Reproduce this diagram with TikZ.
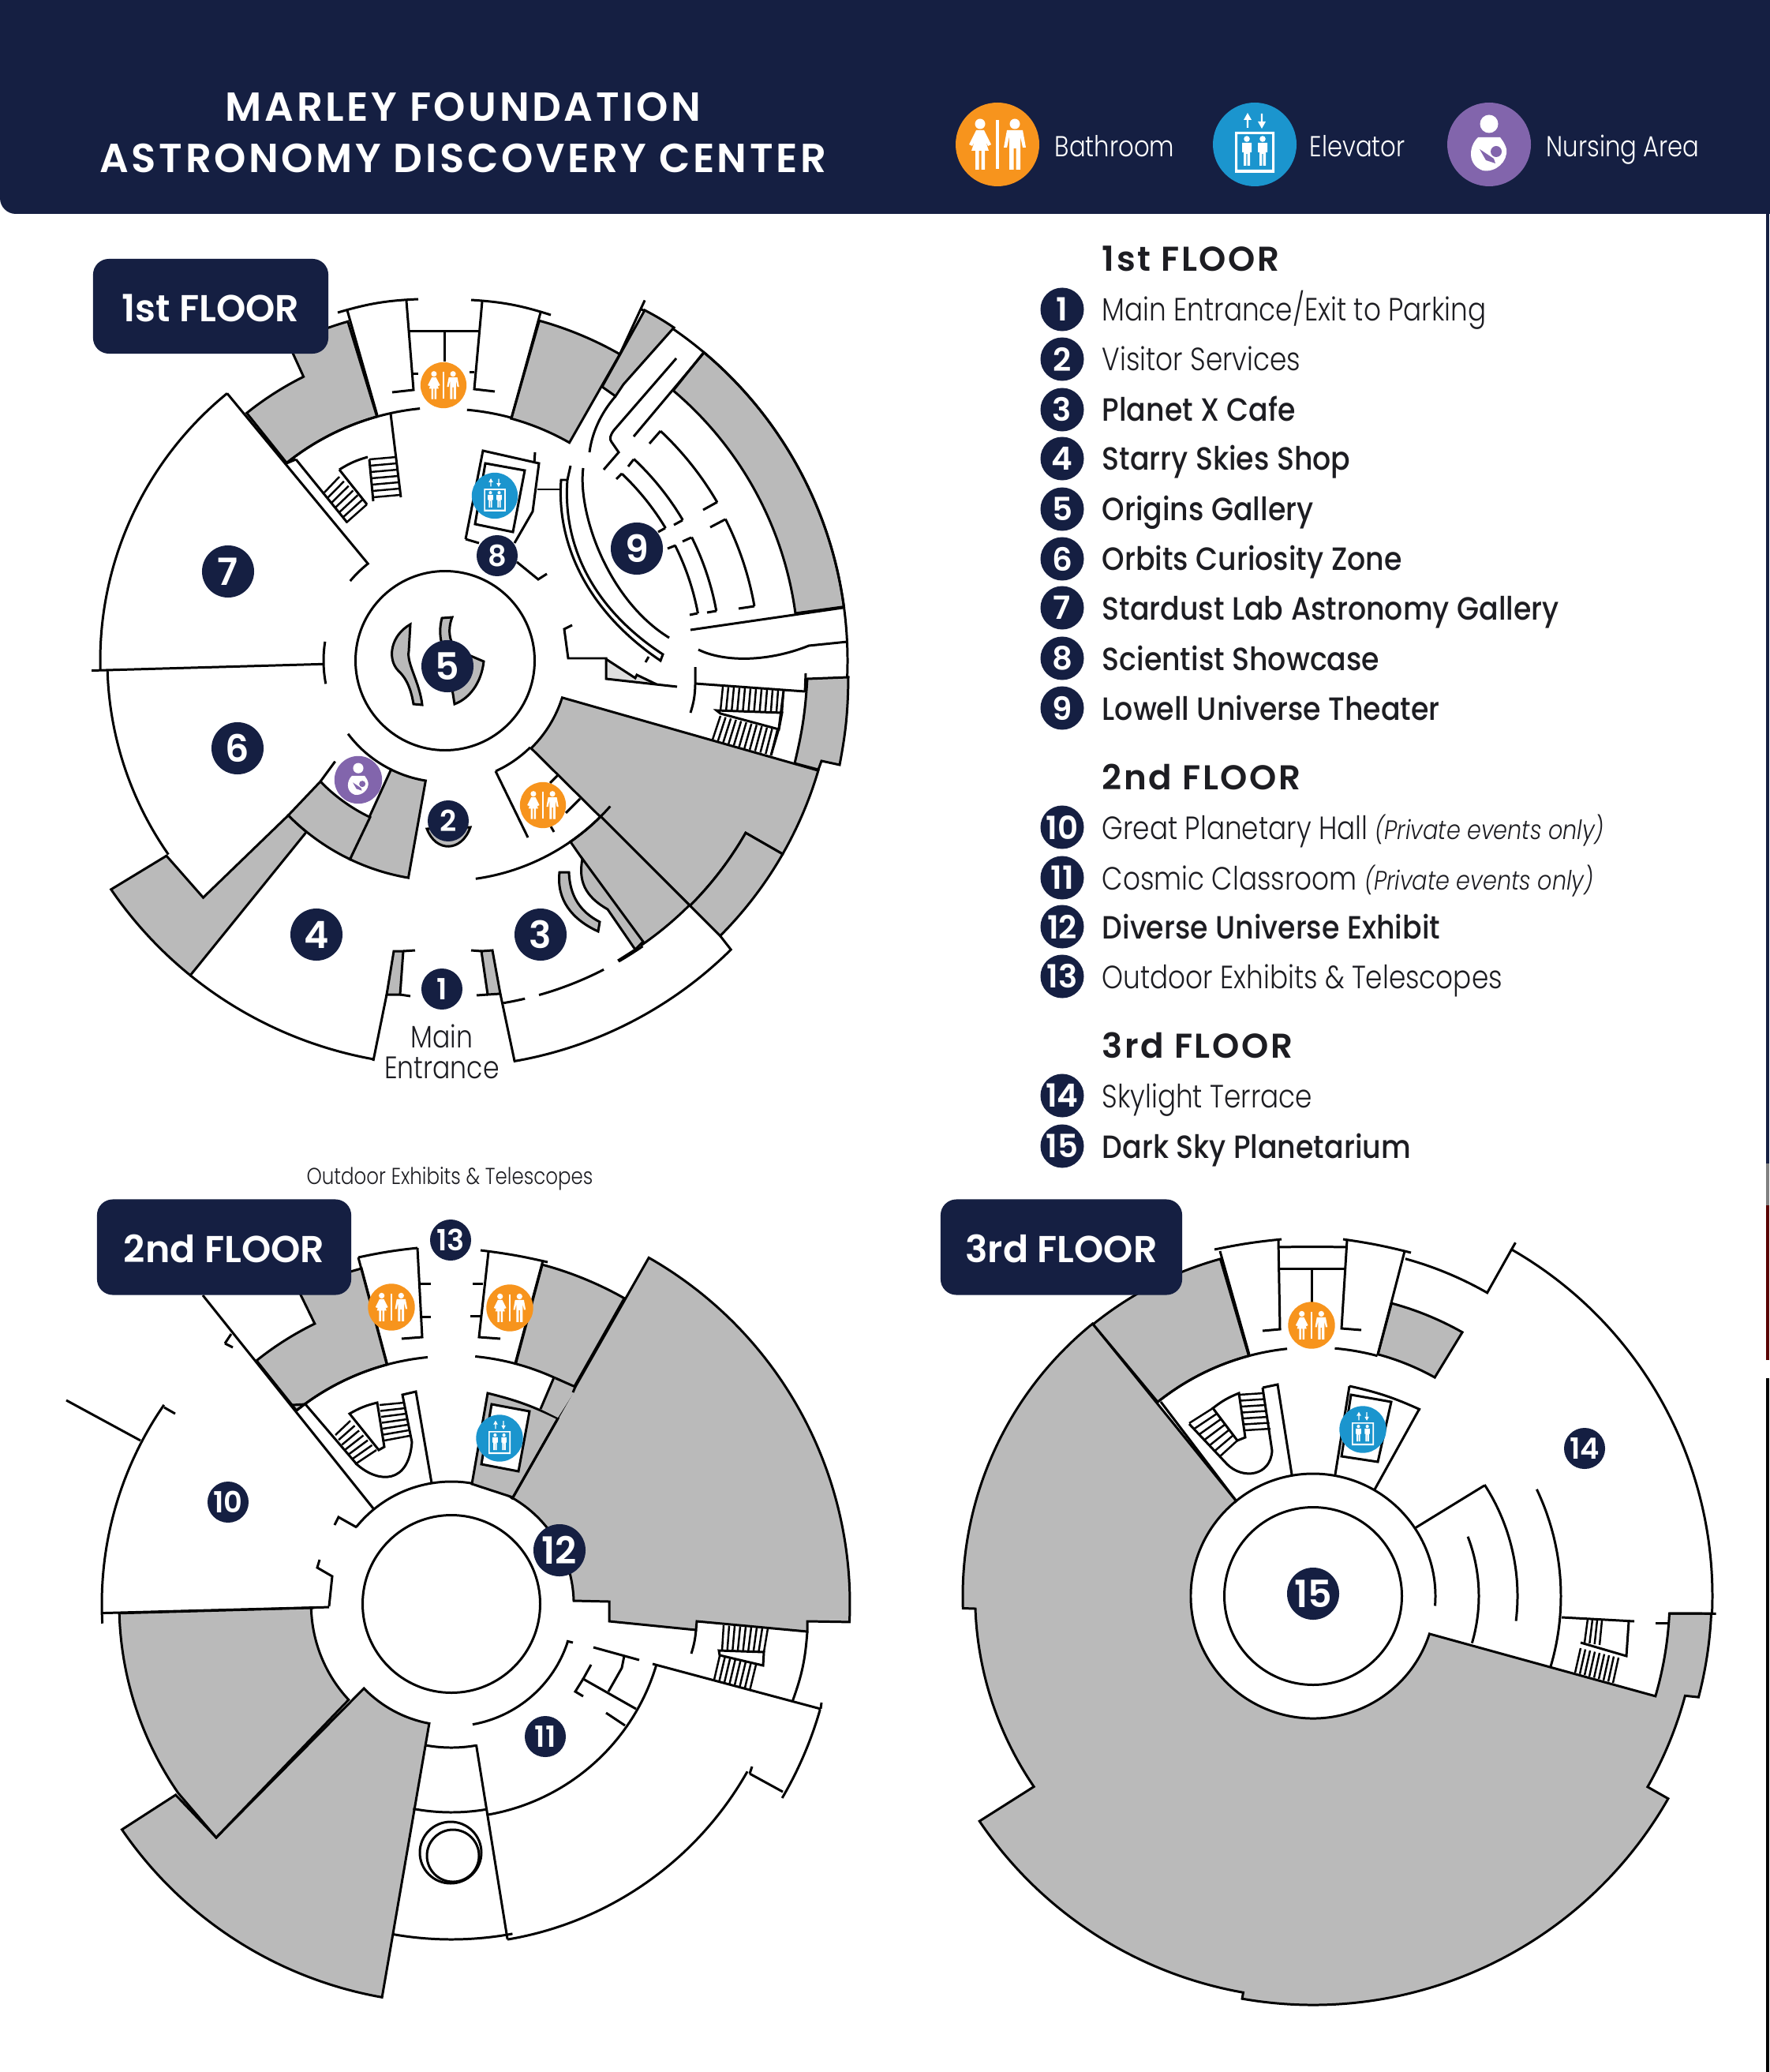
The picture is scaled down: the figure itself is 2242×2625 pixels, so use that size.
\documentclass[tikz,border=0pt]{standalone}
\usepackage{fontspec}
\setmainfont{Poppins}[UprightFont=* Light,BoldFont=* Medium,ItalicFont=* Light Italic,UprightFeatures={FakeStretch=0.84},BoldFeatures={FakeStretch=0.89},ItalicFeatures={FakeStretch=0.85}]
\newfontfamily\headfont{Poppins}[UprightFont=* SemiBold,LetterSpace=7]
\newfontfamily\numfont{Poppins}[UprightFont=* SemiBold]
\usetikzlibrary{calc}

\definecolor{navy}{HTML}{151F42}
\definecolor{roomgray}{HTML}{BABABA}
\definecolor{bathorange}{HTML}{F7941D}
\definecolor{liftblue}{HTML}{1B95CE}
\definecolor{nursepurple}{HTML}{8265AC}
\definecolor{ink}{HTML}{1D1D22}

\newcommand{\treads}[5]{\foreach \k in {0,...,#5} {\draw[thinwall] ($#1!\k/#5!#3$) -- ($#2!\k/#5!#4$);}}

\tikzset{
	wall/.style={line width=0.85pt,line join=miter},
	thinwall/.style={line width=0.7pt},
	grayroom/.style={fill=roomgray,draw=black,line width=0.85pt},
	floorA/.style={shift={(564,837)},y=0.01cm},
	floorB/.style={shift={(572,2032)},y=0.01cm},
	floorC/.style={shift={(1664,2022)},y=0.01cm},
	bignum/.style={circle,fill=navy,text=white,inner sep=0pt,minimum size=0.66cm,font=\numfont\fontsize{13.5}{14}\selectfont},
	smallnum/.style={circle,fill=navy,text=white,inner sep=0pt,minimum size=0.52cm,font=\numfont\fontsize{10.5}{11}\selectfont},
	legnum/.style={circle,fill=navy,text=white,inner sep=0pt,minimum size=0.55cm,font=\numfont\fontsize{11.5}{12}\selectfont},
	legtext/.style={anchor=base west,inner sep=0pt,text=ink,font=\fontsize{11.6}{12}\selectfont},
	legbold/.style={legtext,font=\fontsize{11.6}{12}\bfseries},
	leghead/.style={anchor=base west,inner sep=0pt,text=ink,font=\numfont\fontsize{12.4}{13}\selectfont\addfontfeature{LetterSpace=6}},
	iconlabel/.style={anchor=base west,inner sep=0pt,text=white,font=\fontsize{10.4}{11}\selectfont},
	floorbox/.style={rounded corners=0.2cm,fill=navy,text=white,inner sep=0pt,text height=0.39cm,text depth=0cm,font=\numfont\fontsize{13.5}{14}\selectfont},
	bathicon/.pic={
		\begin{scope}[yscale=-1]
			\fill[bathorange] (0,0) circle (53);
			\fill[white] (-2.2,31) rectangle (2.2,-31);
			\fill[white] (-22,26) circle (6.5) (22,26) circle (6.5);
			\fill[white] (-27,18) -- (-17,18) -- (-8,0) -- (-12,-2) -- (-15,4) -- (-11,-8) -- (-16,-8) -- (-16,-32) -- (-20.5,-32) -- (-20.5,-8) -- (-23.5,-8) -- (-23.5,-32) -- (-28,-32) -- (-28,-8) -- (-33,-8) -- (-29,4) -- (-32,-2) -- (-36,0) -- cycle;
			\fill[white] (12,18) -- (32,18) -- (36,-4) -- (32,-4) -- (29,10) -- (29,-32) -- (23.5,-32) -- (23.5,-5) -- (20.5,-5) -- (20.5,-32) -- (15,-32) -- (15,10) -- (12,-4) -- (8,-4) -- cycle;
		\end{scope}
	},
	lifticon/.pic={
		\begin{scope}[yscale=-1]
			\fill[liftblue] (0,0) circle (53);
			\fill[white] (-10.2,21) rectangle (-7.8,33) (7.8,27) rectangle (10.2,39);
			\fill[white] (-9,40) -- (-14,31) -- (-4,31) -- cycle (9,20) -- (14,29) -- (4,29) -- cycle;
			\fill[white,even odd rule] (-25,16) rectangle (25,-36) (-22,13) rectangle (22,-32);
			\foreach \s in {-10,10} {
				\fill[white] (\s,7) circle (3.8);
				\fill[white] (\s-6,2) -- (\s+6,2) -- (\s+6,-10) -- (\s+4,-10) -- (\s+4,-27) -- (\s+0.6,-27) -- (\s+0.6,-12) -- (\s-0.6,-12) -- (\s-0.6,-27) -- (\s-4,-27) -- (\s-4,-10) -- (\s-6,-10) -- cycle;
			}
		\end{scope}
	},
	nurseicon/.pic={
		\begin{scope}[yscale=-1]
			\fill[nursepurple] (0,0) circle (53);
			\fill[white] (0,26) circle (11.5);
			\fill[white] (-14,9) .. controls (-26,-2) and (-28,-26) .. (-8,-33) .. controls (8,-36) and (24,-22) .. (22,-6) .. controls (20,2) and (16,6) .. (14,9) -- cycle;
			\fill[nursepurple] (9,-9) circle (7);
			\fill[nursepurple] (-12,-6) -- (-4,-20) -- (8,-24) -- (6,-18) -- (-3,-12) -- cycle;
		\end{scope}
	},
}

\begin{document}
\begin{tikzpicture}[x=0.01cm,y=-0.01cm]
	\useasboundingbox (0,0) rectangle (2242,2625);
	\fill[white] (0,0) rectangle (2242,2625);

	% Header band
	\fill[navy,rounded corners=0.2cm] (0,-40) rectangle (2300,271);
	\node[text=white,font=\headfont\fontsize{14.6}{15}\selectfont] (title1) at (587,136) {MARLEY FOUNDATION};
	\node[text=white,font=\headfont\fontsize{14.6}{15}\selectfont] (title2) at (587,201) {ASTRONOMY DISCOVERY CENTER};
	\pic at (1264,183) {bathicon};
	\pic at (1590,183) {lifticon};
	\pic at (1887,183) {nurseicon};
	\node[iconlabel] (keybath) at (1336,199) {Bathroom};
	\node[iconlabel] (keylift) at (1659,199) {Elevator};
	\node[iconlabel] (keynurse) at (1959,199) {Nursing Area};

	% Sliver at the right page edge
	\fill[navy] (2238,271) rectangle (2242,1474);
	\fill[gray] (2238,1474) rectangle (2242,1527);
	\fill[black!30!red!50!black] (2238,1527) rectangle (2242,1723);
	\fill[black] (2238,1746) rectangle (2242,2625);

	% ---------- 1st floor ----------
	\begin{scope}[floorA]
		% Gray rooms
		\filldraw[grayroom] (105.6:321) -- (106:447) arc (106:116.3:447) -- (116.5:402) arc (116.5:128.7:402) -- (128.7:321) arc (128.7:105.6:321) -- cycle;
		\filldraw[grayroom] (74.7:318) -- (74.5:447) arc (74.5:60.3:447) -- (60.3:318) arc (60.3:74.7:318) -- cycle;
		\filldraw[grayroom] (50:510) arc (50:7.7:510) -- (7.7:448) arc (7.7:49.8:448) -- cycle;
		\filldraw[grayroom] (-45.5:155.6) arc (-45.5:-17.5:155.6) -- (-16.4:493) arc (-16.4:-29.8:493) -- (-29.8:439) arc (-29.8:-45:439) -- cycle;
		\filldraw[grayroom] (-29.8:439) -- (-29.8:493) arc (-29.8:-45:493) -- (-45:439) arc (-45:-29.8:439) -- cycle;
		\filldraw[grayroom] (-45:279) -- (-45:438) arc (-45:-55.3:438) -- (-55.3:279) arc (-55.3:-45:279) -- cycle;
		\filldraw[grayroom] (214.4:513) arc (214.4:231:513) -- (231:279) arc (231:224.6:279) -- (224.4:429) -- (215:431) -- cycle;
		\filldraw[grayroom] (243.6:154) arc (243.6:260.8:154) -- (260.4:279) arc (260.4:244.4:279) -- cycle;
		\filldraw[grayroom] (224.6:279) arc (224.6:244.4:279) -- (244.4:220) arc (244.4:224.1:220) -- cycle;
		% Rim and radial walls
		\draw[wall] (61:510) arc (61:-3:510);
		\draw[wall] (129.2:437) arc (129.2:181.6:437);
		\draw[wall] (181.6:448) -- (181.6:154);
		\draw[wall] (171:154) arc (171:191:154);
		\draw[wall] (181.6:428) arc (181.6:215:428);
		\draw[wall] (129.2:437) -- (128.5:157) arc (128.5:140:157);
		\draw[wall] (224.1:220) -- (222.5:189);
		\draw[wall] (217:154) arc (217:243.6:154);
		\draw[wall] (231:513) arc (231:259.8:513);
		\draw[wall] (279.7:515) arc (279.7:314.7:515) -- (-45:493);
		\draw[wall] (60.3:447) -- (61:522);
		% Inner rings
		\draw[wall] (0,0) circle (113.5);
		\draw[wall] (128.8:321) arc (128.8:95.7:321);
		\draw[wall] (85:319) arc (85:74.7:319);
		\draw[wall] (-82:279) arc (-82:-41.4:279);
		\draw[wall] (-80.3:440) arc (-80.3:-76.7:440);
		\draw[wall] (-74.3:440) arc (-74.3:-62.8:440);
		\draw[wall] (-60:440) arc (-60:-55.3:440);
		\draw[wall] (-65.4:154) arc (-65.4:-45.5:154);
		% Theater rows
		\foreach \ra/\rb/\ang in {399/46.8/30.2,350/46.9/30.6,326/46.6/31,398/26.8/10,349.5/26.6/10.4,326/26.6/10.6} {
			\draw[wall] (\rb:\ra) arc (\rb:\ang:\ra);
		}
	\end{scope}

	% Theater row stubs and entrance corridor
	\draw[wall] (837,546) -- (823,562);
	\draw[wall] (909,636) -- (891,646);
	\draw[wall] (803,582) -- (796,591);
	\draw[wall] (865,659) -- (854,665);
	\draw[wall] (788,600) -- (781,607);
	\draw[wall] (843,669) -- (834,674);
	\draw[wall] (919,658) -- (900,668);
	\draw[wall] (956,768) -- (936,771);
	\draw[wall] (876,681) -- (865,686);
	\draw[wall] (908,774) -- (896,776);
	\draw[wall] (856,691) -- (846,695);
	\draw[wall] (884,777) -- (874,779);
	\filldraw[grayroom] (817,393) to[bend left=3] (854,415) -- (790,487) -- (780,502) -- (763,490) -- cycle;
	\draw[wall] (780,502) .. controls (760,525) and (750,550) .. (747,573);
	\draw[wall] (857,454) -- (778,545) .. controls (773,552) and (772,556) .. (775,560) -- (784,573) -- (765,595);
	\draw[wall] (892,447) -- (803,553);
	\draw[wall] (739,593) .. controls (732,650) and (770,760) .. (848,808);
	\filldraw[wall,fill=white] (711,608) .. controls (705,690) and (745,775) .. (837,837) -- (840,829) .. controls (750,770) and (713,690) .. (719,608) -- cycle;
	\draw[wall] (723,590) -- (719,608);
	\draw[wall] (681,620) -- (711,620);
	% Lobby counter and corridors
	\fill[gray!25] (768,835) -- (805,859) -- (807,855) -- (832,867) -- (768,860) -- cycle;
	\draw[wall] (725,792) -- (715,797) -- (720,834) -- (768,834) -- (768,860) -- (858,870);
	\draw[wall] (768,835) -- (805,859) -- (807,855) -- (832,867);
	\draw[wall] (822,832) -- (818,839);
	\draw[wall] (875,798) -- (1068,770);
	\draw[wall] (885,823) .. controls (915,838) and (970,840) .. (1025,818) -- (1074,813);
	\draw[wall] (881,845) -- (881,867) to[bend left=8] (875,903);
	\draw[wall] (881,866) -- (1020,876);
	\filldraw[grayroom] (1023,860) -- (1075,858) to[bend left=5] (1064,969) -- (1041,964) -- (1037,975) -- (1007,967) to[bend right=5] cycle;
	\draw[wall] (1021,853) -- (1020,877);
	% Stairs to the east
	\treads{(916,870)}{(913,900)}{(993,875)}{(991,903)}{11}
	\filldraw[wall,fill=white] (908,900) -- (991,903) -- (987,924) -- (913,904) -- cycle;
	\treads{(913,907)}{(903,937)}{(985,925)}{(977,957)}{11}
	\draw[wall] (993,875) -- (987,923) -- (977,957);
	% Restroom by the shop
	\draw[wall] (628,977) -- (669,1061);
	\draw[wall] (697,992) -- (707,982);
	\draw[wall] (717,1030) -- (735,1012);
	\draw[wall] (698,1047) -- (702,1054);
	% Cafe lobe and curved bar
	\filldraw[grayroom] (738,1088) .. controls (733,1115) and (740,1135) .. (770,1152) -- (805,1203) -- (815,1193) -- cycle;
	\filldraw[grayroom] (709,1105) -- (721,1105) .. controls (722,1135) and (735,1155) .. (760,1168) -- (758,1180) .. controls (725,1165) and (705,1140) .. cycle;
	% Restrooms at the top
	\draw[wall] (440,393) -- (478,526);
	\draw[wall] (428,396) to[bend left=7] (530,379);
	\draw[wall] (515,381) -- (524,494) -- (497,497);
	\draw[wall] (524,474) -- (530,474);
	\draw[wall] (519,420) -- (607,420);
	\draw[wall] (563,420) -- (563,458);
	\draw[wall] (611,382) -- (601,493) -- (627,496);
	\draw[wall] (601,472) -- (595,472);
	\draw[wall] (597,380) to[bend left=7] (698,399);
	\draw[wall] (685,396) -- (648,530);
	% Stair room
	\draw[wall] (495,524) -- (508,630);
	\draw[wall] (375,582) -- (440,662);
	\draw[wall] (363,587) -- (375,582);
	\draw[wall] (468,582) -- (473,635);
	\draw[wall] (430,595) to[bend left=8] (466,579);
	\draw[wall] (430,595) -- (465,639);
	\treads{(468,582)}{(502,579)}{(473,630)}{(507,627)}{6}
	\treads{(430,604)}{(411,624)}{(465,639)}{(439,662)}{6}
	% Elevator block
	\draw[wall] (590,683) -- (612,571) -- (683,587) -- (675,648) -- (652,688);
	\draw[wall] (590,683) -- (607,688);
	\draw[wall] (615,587) -- (665,596) -- (650,674) -- (602,664) -- cycle;
	\draw[wall] (678,573) -- (677,587);
	\draw[wall] (655,712) -- (682,734) -- (693,727);
	% Jambs at the entrance
	\filldraw[grayroom] (499,1205) -- (511,1205) -- (507,1260) -- (490,1260) -- cycle;
	\filldraw[grayroom] (610,1205) -- (624,1204) -- (634,1259) -- (618,1260) -- cycle;
	\draw[wall] (511,1205) -- (526,1204);
	\draw[wall] (507,1260) -- (520,1262);
	\draw[wall] (610,1205) -- (597,1204);
	\draw[wall] (618,1260) -- (604,1261);
	\draw[wall] (490,1260) -- (473,1344);
	\draw[wall] (634,1259) -- (652,1344);
	\draw[wall] (805,1203) -- (783,1217);
	% Exhibits in the rotunda
	\filldraw[grayroom] (520,791) .. controls (495,805) and (490,835) .. (505,850) .. controls (518,862) and (522,880) .. (524,892) -- (535,893) .. controls (532,865) and (515,840) .. (518,825) -- cycle;
	\filldraw[grayroom] (560,783) -- (573,782) .. controls (566,800) and (570,820) .. (585,826) -- (613,838) .. controls (610,865) and (595,885) .. (576,892) -- (573,873) .. controls (590,850) and (548,830) .. cycle;
	\filldraw[grayroom] (541,1050) .. controls (552,1080) and (585,1080) .. (596,1048) -- cycle;

	% Icons and numbers
	\pic[scale=0.55] at (562,488) {bathicon};
	\pic[scale=0.55] at (688,1020) {bathicon};
	\pic[scale=0.55] at (627,628) {lifticon};
	\pic[scale=0.57] at (454,988) {nurseicon};
	\foreach \n/\x/\y in {7/289/724,6/301/948,4/401/1184,3/685/1184,5/567/844,9/807/695} {
		\node[bignum] (flA\n) at (\x,\y) {\n};
	}
	\foreach \n/\x/\y in {1/560/1253,2/568/1040,8/630/704} {
		\node[smallnum] (flA\n) at (\x,\y) {\n};
	}
	\node[text=ink,font=\fontsize{11.2}{12}\selectfont] (mainA) at (560,1313) {Main};
	\node[text=ink,font=\fontsize{11.2}{12}\selectfont] (mainB) at (560,1353) {Entrance};
	\node[floorbox,minimum width=2.98cm,minimum height=1.2cm] (boxA) at (267,388) {1st FLOOR};

	% ---------- 2nd floor ----------
	\node[text=ink,font=\fontsize{8.3}{10}\selectfont] (outdoor) at (570,1493) {Outdoor Exhibits \& Telescopes};
	\begin{scope}[floorB]
		% Gray rooms
		\filldraw[grayroom] (60.2:153) -- (60.3:505) arc (60.3:-2.6:505) -- (451,-22) -- (451,-35) -- (311,-22) -- (310,-33) -- (200,-22) -- (200,3) -- (155,4) arc (1.5:60.2:155) -- cycle;
		\filldraw[grayroom] (75:315) -- (75:445) arc (75:60.5:445) -- (60.5:315) arc (60.5:75:315) -- cycle;
		\filldraw[grayroom] (105:314) -- (105:440) arc (105:116:440) -- (116:395) arc (116:128.7:395) -- (128.7:314) arc (128.7:105:314) -- cycle;
		\filldraw[grayroom] (259.5:155) -- (260:506) arc (260:214.4:506) -- (214.7:425) -- (224.8:420) -- (224:154) arc (224:259.5:154) -- cycle;
		\filldraw[grayroom] (181.6:175) -- (181.6:421) arc (181.6:214.7:421) -- (224.8:420) -- (223:178) arc (223:181.6:177) -- cycle;
		% Rings
		\draw[wall] (0,0) circle (112.5);
		\draw[wall] (141:155) arc (141:60.2:155);
		\draw[wall] (-18:155) arc (-18:-80:155);
		\draw[wall] (128.7:314) arc (128.7:95.5:314);
		\draw[wall] (84.5:315) arc (84.5:75:315);
		\draw[wall] (-80:271) arc (-80:-16.5:271);
		\draw[wall] (-80.5:431) arc (-80.5:-29.5:431);
		\draw[wall] (-16:486) arc (-16:-30.4:486);
		% Entrance bay
		\draw[wall] (260:182) arc (260:280:182);
		\draw[wall] (259.4:264) arc (259.4:280:264);
		\draw[wall] (260:425) arc (260:280.5:425);
		\draw[wall] (-80:181) -- (-80.5:431);
		% Room 10
		\draw[wall] (145.3:443) arc (145.3:183.2:443);
		\draw[wall] (181.5:443) -- (181.5:155);
	\end{scope}
	\draw[wall] (417,2035) -- (421,1997) -- (402,1986) -- (405,1976);
	\draw[wall] (452,1935) -- (429,1922) -- (424,1932);
	\draw[wall] (208,1783) -- (222,1791);
	\draw[wall] (178,1825) -- (84,1774);
	\draw[wall] (257,1641) -- (473,1911);
	\draw[wall] (285,1702) -- (293,1690);
	\draw[wall] (285,1702) -- (295,1707);
	% Top restrooms
	\draw[wall] (454,1593) to[bend left=3] (529,1581);
	\draw[wall] (454,1593) -- (490,1728);
	\draw[wall] (529,1581) -- (535,1694) -- (509,1696);
	\draw[wall] (533,1626) -- (546,1626);
	\draw[wall] (533,1668) -- (546,1668);
	\draw[wall] (609,1584) to[bend left=3] (694,1599);
	\draw[wall] (619,1586) -- (607,1694) -- (634,1696);
	\draw[wall] (688,1597) -- (653,1727);
	\draw[wall] (599,1626) -- (612,1626);
	\draw[wall] (596,1667) -- (609,1667);
	% Stair room
	\draw[wall] (387,1779) -- (370,1780);
	\draw[wall] (387,1779) -- (452,1855) .. controls (480,1880) and (518,1880) .. (522,1827) -- (510,1767) -- (527,1763) -- (547,1879);
	\filldraw[wall,fill=white] (443,1791) to[bend left=8] (478,1777) -- (487,1833) -- (480,1837) -- cycle;
	\treads{(481,1780)}{(512,1777)}{(487,1825)}{(519,1819)}{6}
	\treads{(444,1800)}{(425,1818)}{(477,1837)}{(450,1855)}{6}
	% Elevator core, open to the gray hall on its east side
	\filldraw[grayroom] (618,1765) to[bend left=6] (707,1797) -- (650,1897) -- (598,1880) -- cycle;
	\fill[roomgray] (702,1746) -- (685,1785) -- (707,1796) -- (731,1758) -- cycle;
	\draw[wall] (702,1745) -- (685,1785);
	\draw[wall] (707,1797) -- (650,1897);
	\draw[wall] (704,1746) -- (729,1757) -- (726,1764);
	\filldraw[wall,fill=white] (623,1779) -- (671,1788) -- (657,1864) -- (610,1855) -- cycle;
	% Room 11 fittings
	\draw[wall] (876,2095) to[bend right=6] (882,2065);
	\draw[wall] (1023,2067) to[bend left=8] (1004,2156);
	\draw[wall] (827,2108) -- (1040,2165);
	\draw[wall] (1041,2157) -- (1040,2165);
	\treads{(917,2059)}{(915,2091)}{(973,2063)}{(968,2093)}{8}
	\filldraw[wall,fill=white] (911,2091) -- (968,2093) -- (967,2110) -- (912,2097) -- cycle;
	\treads{(912,2098)}{(905,2128)}{(958,2109)}{(950,2142)}{7}
	\draw[wall] (752,2087) -- (810,2103);
	\draw[wall] (791,2098) -- (788,2113) -- (771,2143);
	\draw[wall] (749,2109) -- (739,2127) -- (806,2165);
	\draw[wall] (739,2127) -- (729,2143) -- (739,2149);
	\draw[wall] (768,2170) -- (792,2186);
	\draw[wall] (718,2079) -- (726,2081);
	\draw[wall] (950,2247) -- (992,2270);
	\draw[wall] (953,2238) -- (950,2247);
	\draw[wall] (571,2347) circle (39);
	\draw[wall] (574,2351) circle (33);

	\pic[scale=0.56] at (496,1656) {bathicon};
	\pic[scale=0.56] at (646,1657) {bathicon};
	\pic[scale=0.56] at (633,1822) {lifticon};
	\foreach \n/\x/\y in {13/571/1571,10/289/1903,11/691/2200} {
		\node[smallnum] (flB\n) at (\x,\y) {\n};
	}
	\node[bignum] (flB12) at (709,1964) {12};
	\node[floorbox,minimum width=3.22cm,minimum height=1.21cm] (boxB) at (284,1580) {2nd FLOOR};

	% ---------- 3rd floor ----------
	\begin{scope}[floorC]
		\filldraw[grayroom] (129:444) arc (129:182:444) -- (-428,-16) arc (182.1:214.3:428) -- (214:510) arc (214:260:510) -- (260:518) arc (260:330.3:518) -- (-29.7:488) arc (-29.7:-15:488) -- (-14.7:505) arc (-14.7:-2.5:505) -- (-2.8:452) arc (-2.8:-16.3:452) -- (-18:155) arc (-18:-231:155) -- cycle;
		\filldraw[grayroom] (105:316) -- (105.4:443) arc (105.4:129:443) -- (128.7:315) arc (128.7:105:315) -- cycle;
		\filldraw[grayroom] (75:316) -- (75:384) arc (75:60.5:384) -- (60.9:317) arc (60.9:75:317) -- cycle;
		% Rings and rim
		\draw[wall] (0,0) circle (112.5);
		\draw[wall] (130:155) arc (130:-4.6:155);
		\draw[wall] (129:315) arc (129:96:315);
		\draw[wall] (85:315) arc (85:75:315);
		\draw[wall] (74.7:443) arc (74.7:60.2:445) -- (60.2:506);
		\draw[wall] (60.2:516) -- (60.2:506) arc (60.2:-2.5:506);
		\draw[wall] (-2.8:452) -- (-2.5:511);
		% Ramps on the east side
		\draw[wall] (21:210) arc (21:-16.5:210);
		\draw[wall] (33:259) arc (33:-7:259);
		\draw[wall] (25.5:314) arc (25.5:-16.6:314);
	\end{scope}
	\draw[wall] (1793,1936) -- (1881,1882);
	% Top restrooms
	\draw[wall] (1539,1583) to[bend left=3] (1624,1570);
	\draw[wall] (1546,1585) -- (1583,1716);
	\draw[wall] (1620,1571) -- (1622,1684) -- (1600,1686);
	\draw[wall] (1619,1580) to[bend left=1] (1707,1580);
	\draw[wall] (1620,1607) -- (1705,1607);
	\draw[wall] (1662,1607) -- (1662,1652);
	\draw[wall] (1702,1570) to[bend left=3] (1788,1587);
	\draw[wall] (1707,1571) -- (1700,1683) -- (1725,1685);
	\draw[wall] (1780,1585) -- (1746,1716);
	% Stair room
	\draw[wall] (1471,1776) -- (1567,1902);
	\draw[wall] (1600,1758) -- (1619,1754) -- (1637,1868);
	\draw[wall] (1600,1758) -- (1612,1838) .. controls (1610,1870) and (1575,1875) .. (1555,1855) -- (1507,1804);
	\filldraw[wall,fill=white] (1537,1784) to[bend left=8] (1570,1765) -- (1578,1821) -- (1568,1825) -- cycle;
	\treads{(1570,1767)}{(1601,1765)}{(1578,1812)}{(1610,1810)}{6}
	\treads{(1537,1784)}{(1507,1803)}{(1568,1825)}{(1546,1845)}{6}
	% Elevator core
	\draw[wall] (1710,1756) to[bend left=6] (1800,1786);
	\draw[wall] (1710,1756) -- (1692,1868);
	\draw[wall] (1798,1786) -- (1742,1887);
	\draw[wall] (1712,1767) -- (1763,1776) -- (1746,1852) -- (1700,1845) -- cycle;
	% Stairs in the east room
	\draw[wall] (1979,2049) -- (2071,2054);
	\draw[wall] (2064,2054) -- (2061,2098) -- (2003,2081);
	\treads{(2012,2051)}{(2008,2081)}{(2030,2053)}{(2027,2084)}{3}
	\treads{(2003,2088)}{(1996,2119)}{(2051,2100)}{(2044,2132)}{8}
	\draw[wall] (2098,2056) -- (2114,2056);

	\pic[scale=0.56] at (1662,1679) {bathicon};
	\pic[scale=0.56] at (1727,1811) {lifticon};
	\node[smallnum] (flC14) at (2008,1835) {14};
	\node[bignum] (flC15) at (1664,2019) {15};
	\node[floorbox,minimum width=3.06cm,minimum height=1.21cm] (boxC) at (1345,1580) {3rd FLOOR};

	% ---------- Legend ----------
	\node[leghead] (headA) at (1396,344) {1st FLOOR};
	\node[leghead] (headB) at (1396,1000) {2nd FLOOR};
	\node[leghead] (headC) at (1396,1340) {3rd FLOOR};
	\foreach \n/\y/\txt in {1/392/{Main Entrance/Exit to Parking},2/455/{Visitor Services},13/1237/{Outdoor Exhibits \& Telescopes},14/1388/{Skylight Terrace}} {
		\node[legnum] (key\n) at (1346,\y) {\n};
		\node[legtext] (txt\n) at (1396,\y+15) {\txt};
	}
	\foreach \n/\y/\txt in {3/519/{Planet X Cafe},4/581/{Starry Skies Shop},5/645/{Origins Gallery},6/708/{Orbits Curiosity Zone},7/770/{Stardust Lab Astronomy Gallery},8/834/{Scientist Showcase},9/897/{Lowell Universe Theater},12/1174/{Diverse Universe Exhibit},15/1452/{Dark Sky Planetarium}} {
		\node[legnum] (key\n) at (1346,\y) {\n};
		\node[legbold] (txt\n) at (1396,\y+15) {\txt};
	}
	\foreach \n/\y/\txt in {10/1048/{Great Planetary Hall},11/1112/{Cosmic Classroom}} {
		\node[legnum] (key\n) at (1346,\y) {\n};
		\node[legtext] (txt\n) at (1396,\y+15) {\txt\ {\fontsize{9.6}{10}\itshape (Private events only)}};
	}
\end{tikzpicture}
\end{document}
